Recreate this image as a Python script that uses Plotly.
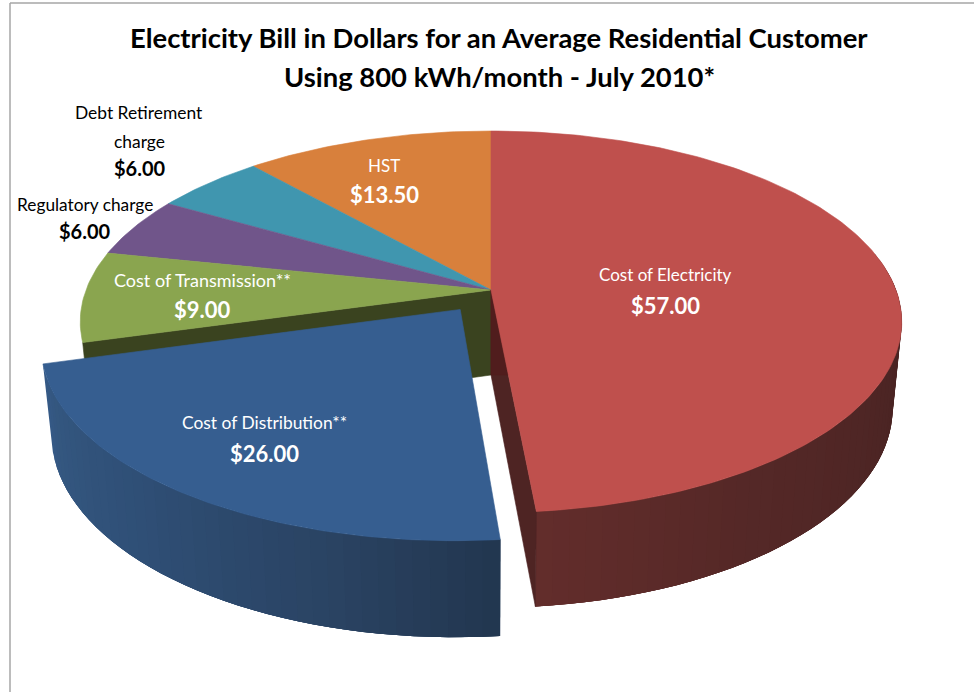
import math
import plotly.graph_objects as go

# ---- data ----
categories = ["Cost of Electricity", "Cost of Distribution**", "Cost of Transmission**",
              "Regulatory charge", "Debt Retirement charge", "HST"]
values = [57.00, 26.00, 9.00, 6.00, 6.00, 13.50]
exploded = [False, True, False, False, False, False]
title_lines = ["Electricity Bill in Dollars for an Average Residential Customer",
               "Using 800 kWh/month - July 2010*"]

# ---- style ----
top_colors = ["#BF504D", "#365E90", "#8AA54F", "#70558A", "#4096AF", "#D8803C"]
FONT = "Lato"
CX = 491
TOP = dict(cy=290, a=405, b=185.5)
BOTTOM = dict(cy=375, a=396, b=194)
D = 6.0
EXPLODE = 0.125


def project(theta, r, plane, off=(0.0, 0.0)):
    X = r * math.sin(theta) + off[0]
    Y = -r * math.cos(theta) + off[1]
    s = D / (D - Y)
    return CX + plane["a"] * X * s, plane["cy"] + plane["b"] * Y * s


def lerp_color(stops, t):
    for (t0, c0), (t1, c1) in zip(stops, stops[1:]):
        if t <= t1:
            f = (t - t0) / (t1 - t0) if t1 > t0 else 0
            rgb = [round(int(c0[i:i + 2], 16) * (1 - f) + int(c1[i:i + 2], 16) * f) for i in (1, 3, 5)]
            return "#%02x%02x%02x" % tuple(rgb)
    return stops[-1][1]


fig = go.Figure()


def poly(points, color, width=0.6):
    xs = [p[0] for p in points] + [points[0][0]]
    ys = [p[1] for p in points] + [points[0][1]]
    fig.add_trace(go.Scatter(x=xs, y=ys, mode="lines", fill="toself", fillcolor=color,
                             line=dict(color=color, width=width), hoverinfo="skip", showlegend=False))


total = sum(values)
starts, ends = [], []
acc = 0.0
for v in values:
    starts.append(acc / total * 2 * math.pi)
    acc += v
    ends.append(acc / total * 2 * math.pi)

offsets = []
for i in range(len(values)):
    if exploded[i]:
        mid = (starts[i] + ends[i]) / 2
        offsets.append((EXPLODE * math.sin(mid) - 0.004, -EXPLODE * math.cos(mid)))
    else:
        offsets.append((0.0, 0.0))


def arc(i, plane, step=1.0):
    n = max(2, int(math.degrees(ends[i] - starts[i]) / step))
    return [project(starts[i] + (ends[i] - starts[i]) * k / n, 1.0, plane, offsets[i]) for k in range(n + 1)]


def outer_wall(i, stops, reverse=False):
    """Wall strips painted so each later strip overlaps the previous one (no seams)."""
    n = max(2, int(math.degrees(ends[i] - starts[i]) / 2))
    order = range(n - 1, -1, -1) if reverse else range(n)
    for k in order:
        a, b = (k - 3, k + 1) if reverse else (k, k + 4)
        a, b = max(a, 0), min(b, n)
        t0 = starts[i] + (ends[i] - starts[i]) * a / n
        t1 = starts[i] + (ends[i] - starts[i]) * b / n
        mid = starts[i] + (ends[i] - starts[i]) * (k + 0.5) / n
        if -math.cos(mid) < -0.2:
            continue  # behind the top face
        ts = [t0 + (t1 - t0) * j / 4 for j in range(5)]
        pts = [project(t, 1, TOP, offsets[i]) for t in ts] + [project(t, 1, BOTTOM, offsets[i]) for t in reversed(ts)]
        poly(pts, lerp_color(stops, (k + 0.5) / n), width=0)


# back slices' tops first
for i in [5, 4, 3]:
    poly([project(0, 0, TOP)] + arc(i, TOP), top_colors[i])

# radial wall of the slice next to the gap
olive = "#3A431F"
poly([project(0, 0, TOP), project(0, 0, BOTTOM), project(ends[1], 1, BOTTOM), project(ends[1], 1, TOP)], olive)
poly([project(0, 0, TOP)] + arc(2, TOP), top_colors[2])

# right slice: radial wall, outer wall, top
a_top, a_bot = project(0, 0, TOP), project(0, 0, BOTTOM)
r_top, r_bot = project(ends[0], 1, TOP), project(ends[0], 1, BOTTOM)
outer_wall(0, [(0.0, "#4A2423"), (0.6, "#4A2423"), (0.85, "#552827"), (1.0, "#632D2B")])
poly([a_top, a_bot, r_bot, r_top], "#4E2423")
f = (a_bot[1] - a_top[1]) / (r_top[1] - a_top[1])
poly([a_top, a_bot, (a_top[0] + (r_top[0] - a_top[0]) * f, a_bot[1])], "#501D1D")
poly([project(0, 0, TOP)] + arc(0, TOP), top_colors[0])

# exploded slice: outer wall, top
outer_wall(1, [(0.0, "#22364F"), (0.25, "#2A4363"), (0.6, "#2F4F76"), (0.9, "#345780"), (1.0, "#365A88")], reverse=True)
poly([project(0, 0, TOP, offsets[1])] + arc(1, TOP), top_colors[1])


def label(x, y, text, size, color="#000000", bold=False):
    fig.add_annotation(x=x, y=y, xref="x", yref="y", text="<b>%s</b>" % text if bold else text,
                       showarrow=False, xanchor="center", yanchor="middle",
                       font=dict(family=FONT, size=size, color=color))


money = ["$%.2f" % v for v in values]
WHITE = "#FFFFFF"
label(499, 37, title_lines[0], 27.4, bold=True)
label(499, 76, title_lines[1], 27.4, bold=True)
label(665, 274, categories[0], 17, WHITE)
label(665, 305, money[0], 22, WHITE, True)
label(264, 422, categories[1], 17.4, WHITE)
label(264, 453, money[1], 22, WHITE, True)
label(202, 280, categories[2], 18, WHITE)
label(202, 309, money[2], 22, WHITE, True)
label(85, 204, categories[3], 17.3)
label(85, 231, money[3], 20, bold=True)
label(139, 112, "Debt Retirement", 17.4)
label(139, 141, "charge", 17.4)
label(140, 168, money[4], 20, bold=True)
label(384, 165, categories[5], 17, WHITE)
label(384, 194, money[5], 22, WHITE, True)

fig.update_layout(
    width=974, height=692, margin=dict(l=0, r=0, t=0, b=0),
    paper_bgcolor="#FFFFFF", plot_bgcolor="#FFFFFF", showlegend=False,
    xaxis=dict(range=[0, 974], visible=False, fixedrange=True),
    yaxis=dict(range=[692, 0], visible=False, fixedrange=True),
    shapes=[dict(type="line", xref="x", yref="y", x0=10, x1=10, y0=3, y1=692, line=dict(color="#A6A6A6", width=1.5)),
            dict(type="line", xref="x", yref="y", x0=10, x1=974, y0=3, y1=3, line=dict(color="#A6A6A6", width=1.5))],
)
fig.write_html("out.html", config=dict(displayModeBar=False),
               post_script="document.body.style.margin='0';document.body.style.overflow='hidden';")
